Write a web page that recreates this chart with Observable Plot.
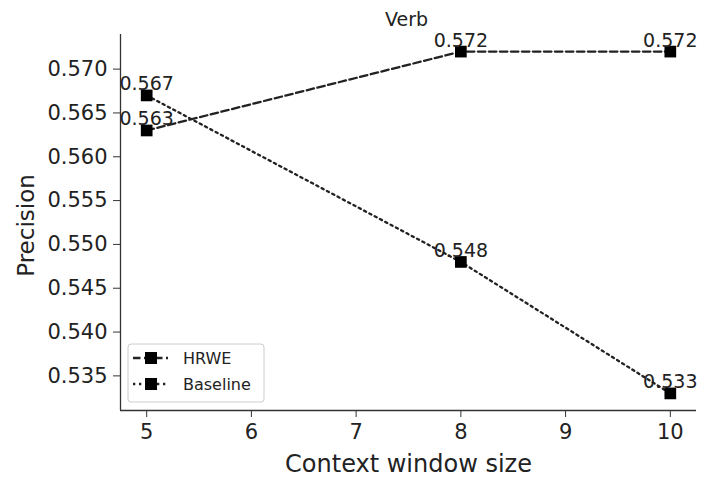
<!DOCTYPE html>
<html>
<head>
<meta charset="utf-8">
<script src="https://cdn.jsdelivr.net/npm/d3@7"></script>
<script src="https://cdn.jsdelivr.net/npm/@observablehq/plot@0.6"></script>
<style>
  html, body { margin: 0; padding: 0; background: #fff; }
  #chart svg { display: block; }
</style>
</head>
<body>
<div id="chart"></div>
<script>
// ---- data ----
const windowSizes = [5, 8, 10];
const hrweValues = [0.563, 0.572, 0.572];
const baselineValues = [0.567, 0.548, 0.533];
const seriesNames = ["HRWE", "Baseline"];
const xTicks = [5, 6, 7, 8, 9, 10];
const yTicks = [0.535, 0.540, 0.545, 0.550, 0.555, 0.560, 0.565, 0.570];
const titleText = "Verb";
const xLabel = "Context window size";
const yLabel = "Precision";

const hrwe = windowSizes.map((x, i) => ({x, y: hrweValues[i], series: seriesNames[0]}));
const baseline = windowSizes.map((x, i) => ({x, y: baselineValues[i], series: seriesNames[1]}));
const all = hrwe.concat(baseline);

// matplotlib-like 5% margins
const yMin = Math.min(...all.map(d => d.y)), yMax = Math.max(...all.map(d => d.y));
const yPad = (yMax - yMin) * 0.05;
const xMin = Math.min(...windowSizes), xMax = Math.max(...windowSizes);
const xPad = (xMax - xMin) * 0.05;
const xDomain = [xMin - xPad, xMax + xPad];
const yDomain = [yMin - yPad, yMax + yPad];

const ink = "#222";
const dashed = "7.5,3.5";
const dotted = "2.3,3.7";

const plot = Plot.plot({
  width: 702,
  height: 482,
  marginLeft: 120,
  marginRight: 6,
  marginTop: 34,
  marginBottom: 72,
  style: {fontFamily: "DejaVu Sans", fontSize: "21px", color: ink, background: "#fff"},
  x: {domain: xDomain},
  y: {domain: yDomain},
  marks: [
    Plot.axisX({ticks: xTicks, tickSize: 7, tickPadding: 7, tickFormat: d3.format("d"), label: null, fontSize: 21, stroke: "#333"}),
    Plot.axisY({ticks: yTicks, tickSize: 7, tickPadding: 6, tickFormat: d3.format(".3f"), label: null, fontSize: 21, stroke: "#333"}),
    Plot.ruleX([xDomain[0]], {stroke: "#333", strokeWidth: 1.3}),
    Plot.ruleY([yDomain[0]], {stroke: "#333", strokeWidth: 1.3}),
    Plot.line(hrwe, {x: "x", y: "y", stroke: ink, strokeWidth: 2.3, strokeDasharray: dashed}),
    Plot.line(baseline, {x: "x", y: "y", stroke: ink, strokeWidth: 2.3, strokeDasharray: dotted}),
    Plot.dot(all, {x: "x", y: "y", symbol: "square", r: 6.6, fill: "#000", stroke: "none"}),
    Plot.text(all, {x: "x", y: "y", text: d => d.y.toFixed(3), textAnchor: "middle", lineAnchor: "bottom", dy: -5, fontSize: 19, fill: ink}),
    Plot.text([titleText], {frameAnchor: "top", textAnchor: "middle", lineAnchor: "bottom", dx: -2, dy: -9, fontSize: 19, fill: ink}),
    Plot.text([xLabel], {frameAnchor: "bottom", textAnchor: "middle", lineAnchor: "bottom", dy: 61, fontSize: 24, fill: ink}),
    Plot.text([yLabel], {frameAnchor: "left", textAnchor: "middle", lineAnchor: "bottom", dx: -87, dy: 3, rotate: -90, fontSize: 23, fill: ink})
  ]
});

// legend (matplotlib-style box inside the axes, lower left)
const svg = d3.select(plot);
const lg = svg.append("g").attr("transform", "translate(128,344)");
lg.append("rect").attr("width", 136).attr("height", 58).attr("rx", 3)
  .attr("fill", "#fff").attr("fill-opacity", 0.8).attr("stroke", "#ccc").attr("stroke-width", 1);
const styles = [dashed, dotted];
seriesNames.forEach((name, i) => {
  const cy = 14 + i * 26;
  lg.append("line").attr("x1", 5).attr("x2", 40).attr("y1", cy).attr("y2", cy)
    .attr("stroke", ink).attr("stroke-width", 2.3).attr("stroke-dasharray", styles[i]);
  lg.append("rect").attr("x", 23 - 6).attr("y", cy - 6).attr("width", 12).attr("height", 12).attr("fill", "#000");
  lg.append("text").attr("x", 55).attr("y", cy).attr("dy", "0.35em")
    .attr("text-anchor", "start")
    .attr("font-size", 16).attr("fill", ink).attr("font-family", "DejaVu Sans").text(name);
});

document.getElementById("chart").appendChild(plot);
</script>
</body>
</html>
